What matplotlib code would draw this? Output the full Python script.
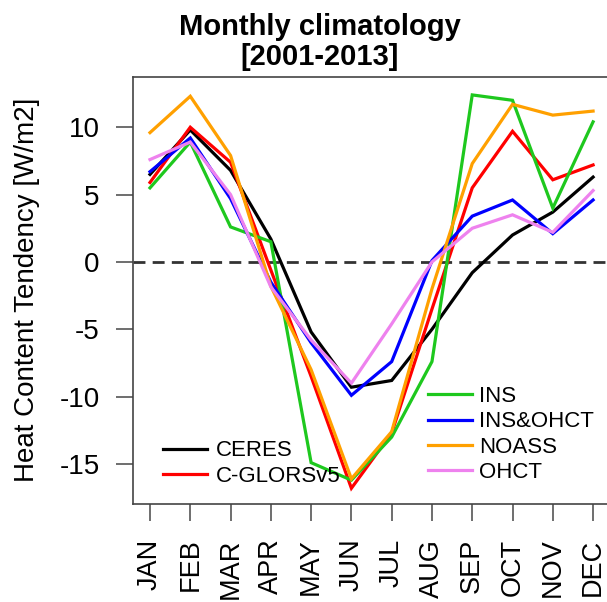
import matplotlib
matplotlib.use("Agg")
import matplotlib.pyplot as plt

plt.rcParams['font.family'] = ['Liberation Sans', 'DejaVu Sans']

# Dados (W/m2)
meses = ['JAN', 'FEB', 'MAR', 'APR', 'MAY', 'JUN', 'JUL', 'AUG', 'SEP', 'OCT', 'NOV', 'DEC']
ceres = [6.5, 9.8, 6.8, 1.7, -5.2, -9.3, -8.8, -5.0, -0.8, 2.0, 3.7, 6.3]
cglors = [5.9, 10.0, 7.4, -0.6, -8.5, -16.8, -12.7, -3.5, 5.5, 9.7, 6.1, 7.2]
ins = [5.5, 8.9, 2.6, 1.5, -14.9, -16.2, -13.0, -7.4, 12.4, 12.0, 4.0, 10.4]
ins_ohct = [6.7, 9.2, 4.7, -1.5, -6.0, -9.9, -7.4, 0.1, 3.4, 4.6, 2.1, 4.6]
noass = [9.6, 12.3, 7.9, -1.8, -8.0, -16.1, -12.6, -2.0, 7.3, 11.7, 10.9, 11.2]
ohct = [7.6, 8.9, 5.0, -1.85, -5.8, -9.0, -4.6, 0.0, 2.5, 3.5, 2.2, 5.3]

series = [
    ('CERES', ceres, 'black'),
    ('C-GLORSv5', cglors, '#ff0000'),
    ('INS', ins, '#1ec81e'),
    ('INS&OHCT', ins_ohct, '#0000ff'),
    ('NOASS', noass, '#ffa000'),
    ('OHCT', ohct, '#ee82ee'),
]

W, H = 607, 602
fig = plt.figure(figsize=(W / 100, H / 100), dpi=100)
ax = fig.add_axes([133 / W, 1 - 504 / H, 477 / W, 427 / H])

x = list(range(1, len(meses) + 1))
linhas = {}
for nome, valores, cor in series:
    l, = ax.plot(x, valores, color=cor, lw=2.3, label=nome, solid_joinstyle='miter')
    linhas[nome] = l

# linha do zero
ax.axhline(0, color='#333333', lw=2, dashes=(4.3, 2.6), zorder=0)

ax.set_xlim(0.578, 12.42)
ax.set_ylim(-17.97, 13.73)
ax.set_xticks(x)
ax.set_xticklabels(meses, rotation=90, fontsize=19.5)
ax.set_yticks([-15, -10, -5, 0, 5, 10])
ax.set_yticklabels(['-15', '-10', '-5', '0', '5', '10'], fontsize=20)
ax.tick_params(direction='out', length=12, width=1.2, color='#555555')
ax.tick_params(axis='y', pad=12)
ax.tick_params(axis='x', pad=13)
for lado in ['left', 'top', 'bottom', 'right']:
    ax.spines[lado].set_color('#444444')
    ax.spines[lado].set_linewidth(1.2)

# Legendas
leg1 = ax.legend([linhas['CERES'], linhas['C-GLORSv5']], ['CERES', 'C-GLORSv5'],
                 loc='center left', bbox_to_anchor=(163 / W, 1 - 463.5 / H),
                 bbox_transform=fig.transFigure, frameon=False, fontsize=16,
                 handlelength=2.0, handletextpad=0.36, labelspacing=0.2,
                 borderpad=0, borderaxespad=0)
ax.add_artist(leg1)
ax.legend([linhas[n] for n in ['INS', 'INS&OHCT', 'NOASS', 'OHCT']],
          ['INS', 'INS&OHCT', 'NOASS', 'OHCT'],
          loc='center left', bbox_to_anchor=(428 / W, 1 - 434.5 / H),
          bbox_transform=fig.transFigure, frameon=False, fontsize=16,
          handlelength=2.0, handletextpad=0.3, labelspacing=0.2,
          borderpad=0, borderaxespad=0)

# Titulo e eixo y
fig.text(320 / W, 1 - 35 / H, 'Monthly climatology', ha='center', va='baseline',
         fontsize=21, fontweight='bold')
fig.text(320 / W, 1 - 65 / H, '[2001-2013]', ha='center', va='baseline',
         fontsize=21, fontweight='bold')
fig.text(27 / W, 1 - 290 / H, 'Heat Content Tendency [W/m2]', rotation=90,
         ha='center', va='center', fontsize=20)

plt.savefig('out.png', dpi=100)
